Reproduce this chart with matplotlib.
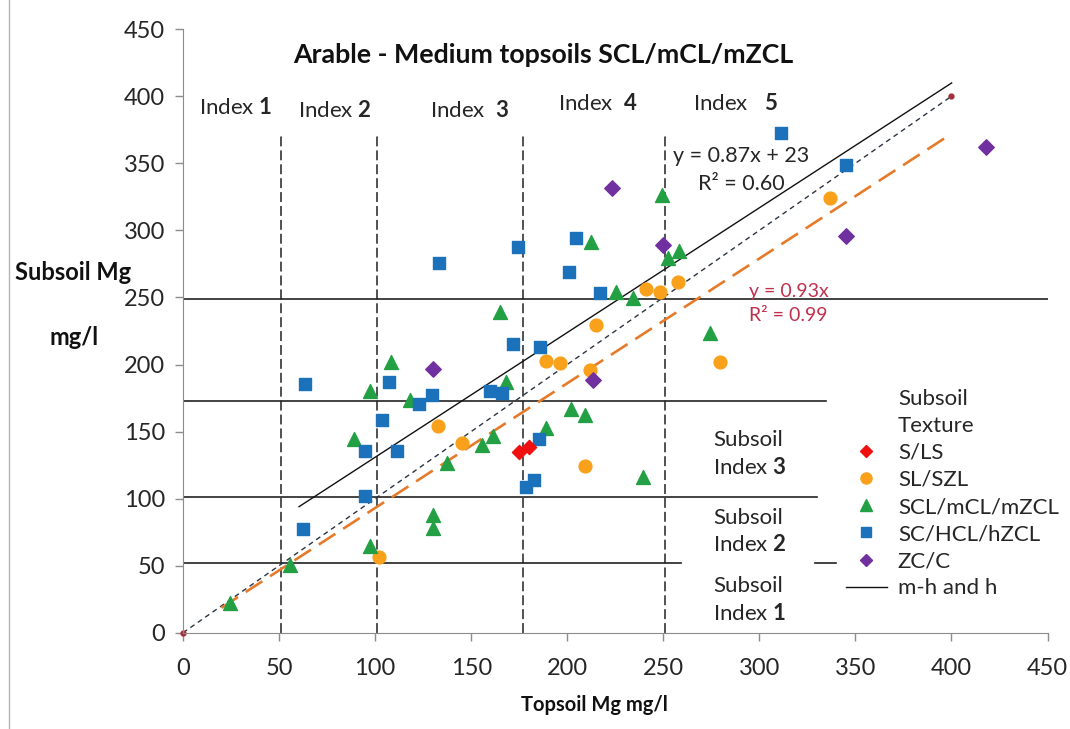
import numpy as np
import matplotlib
matplotlib.use("Agg")
import matplotlib.pyplot as plt
from matplotlib.lines import Line2D

plt.rcParams['font.family'] = ['Lato', 'DejaVu Sans']
plt.rcParams['mathtext.fontset'] = 'custom'
plt.rcParams['mathtext.rm'] = 'Lato'
plt.rcParams['mathtext.bf'] = 'Lato:bold'

# topsoil / subsoil Mg (mg/l) by subsoil texture
sls_x = [174.8, 180.2]
sls_y = [135.0, 138.3]

sl_x = [102.1, 132.8, 145.0, 188.7, 196.5, 211.8, 279.4, 209.2, 257.7, 240.9, 248.5, 215.2, 336.6]
sl_y = [56.7, 154.4, 141.7, 202.6, 200.9, 195.9, 201.6, 124.5, 261.7, 256.3, 253.8, 229.5, 323.9]

scl_x = [24.5, 55.7, 97.3, 89.0, 97.3, 108.1, 118.1, 137.2, 130.2, 130.2, 168.1, 161.4, 155.4,
         189.2, 202.2, 209.2, 239.2, 249.1, 212.3, 258.1, 252.5, 225.3, 234.0, 164.9, 274.2]
scl_y = [22.1, 50.5, 64.4, 144.2, 180.5, 202.1, 173.5, 126.3, 87.8, 78.3, 187.2, 146.7, 140.0,
         152.9, 166.6, 162.3, 116.3, 326.4, 291.1, 284.6, 279.6, 254.3, 249.4, 239.4, 223.3]

sc_x = [62.6, 94.7, 94.7, 103.4, 111.2, 63.5, 107.3, 122.8, 129.7, 171.9, 185.7, 159.7, 166.3,
        185.4, 178.3, 182.6, 174.5, 204.8, 201.0, 217.3, 133.2, 311.5, 345.3]
sc_y = [77.1, 102.2, 135.5, 158.6, 135.5, 185.5, 186.7, 170.5, 177.3, 215.3, 213.3, 180.5, 178.5,
        144.2, 108.4, 113.9, 287.8, 294.1, 268.8, 253.1, 275.9, 372.4, 348.8]

zc_x = [130.2, 213.5, 223.4, 249.9, 417.8, 345.3]
zc_y = [196.6, 188.4, 331.4, 289.1, 362.4, 295.8]

# reference lines
one_x = [0, 400]
one_y = [0, 400]
fit_x = [20, 400]
fit_y = [18.6, 372.0]      # y = 0.93x
mh_x = [60.4, 400.1]
mh_y = [94.0, 409.9]

# index boundaries
top_bounds = [51, 101, 177, 251]
top_bound_max = 371
sub_bounds = [249, 173, 101, 52, 52]
sub_bound_from = [0, 0, 0, 0, 329]
sub_bound_to = [450, 334.5, 330, 259, 340]

txt = '#262626'

fig = plt.figure(figsize=(10.7, 7.29), dpi=100)
ax = fig.add_axes([0.171, 0.132, 0.808, 0.828])

for xb in top_bounds:
    ax.plot([xb, xb], [0, top_bound_max], color='#222222', lw=1.1, dashes=(6.5, 2.6))
for yb, x0, x1 in zip(sub_bounds, sub_bound_from, sub_bound_to):
    ax.plot([x0, x1], [yb, yb], color='#222222', lw=1.2)

ax.plot(one_x, one_y, color='#2b3441', lw=1.0, dashes=(3.6, 2.9))
ax.plot(one_x, one_y, ls='none', marker='o', ms=3.5, color='#a0303c', clip_on=False)
ax.plot(fit_x, fit_y, color='#e57b2a', lw=1.9, dashes=(7.5, 3.5))
ax.plot(mh_x, mh_y, color='#111111', lw=1.0)

ax.scatter(sl_x, sl_y, marker='o', s=85, color='#f9a11b', zorder=3)
ax.scatter(scl_x, scl_y, marker='^', s=100, color='#23a044', zorder=3)
ax.scatter(sc_x, sc_y, marker='s', s=72, color='#1b72bb', zorder=3)
ax.scatter(zc_x, zc_y, marker='D', s=62, color='#7030a0', zorder=3)
ax.scatter(sls_x, sls_y, marker='D', s=52, color='#f01010', zorder=3)

ax.set_xlim(0, 450)
ax.set_ylim(0, 450)
ax.set_xticks(np.arange(0, 451, 50))
ax.set_yticks(np.arange(0, 451, 50))
for side in ['top', 'right']:
    ax.spines[side].set_visible(False)
for side in ['left', 'bottom']:
    ax.spines[side].set_color('#8c8c8c')
ax.tick_params(direction='out', length=6, width=1, color='#8c8c8c',
               labelsize=17, labelcolor=txt)
ax.tick_params(axis='x', pad=12)
ax.tick_params(axis='y', pad=7)

# index labels
idx_x = [27.3, 78.8, 149.3, 215.9, 287.7]
idx_y = [391.3, 389.0, 389.6, 394.3, 394.3]
idx_lbl = ['Index $\\mathbf{1}$', 'Index $\\mathbf{2}$', 'Index  $\\mathbf{3}$',
           'Index  $\\mathbf{4}$', 'Index   $\\mathbf{5}$']
for x, y, s in zip(idx_x, idx_y, idx_lbl):
    ax.text(x, y, s, ha='center', va='center', fontsize=16, color=txt)

sub_y = [133.3, 75.5, 24.4]
sub_lbl = ['3', '2', '1']
for y, s in zip(sub_y, sub_lbl):
    ax.text(275.8, y, 'Subsoil\nIndex $\\mathbf{' + s + '}$', ha='left', va='center',
            fontsize=16, color=txt, linespacing=1.4)

ax.text(290.6, 344.7, 'y = 0.87x + 23\nR² = 0.60', ha='center', va='center',
        fontsize=15.5, color=txt, linespacing=1.5)
ax.text(294.5, 245.5, 'y = 0.93x\nR² = 0.99', ha='left', va='center',
        fontsize=14, color='#c0304d', linespacing=1.55)

fig.text(0.508, 0.9246, 'Arable - Medium topsoils SCL/mCL/mZCL', ha='center', va='center',
         fontsize=19.3, fontweight='bold', color='#111111')
fig.text(594 / 1070, 1 - 705 / 729, 'Topsoil Mg mg/l', ha='center', va='center',
         fontsize=14.5, fontweight='bold', color='#111111')
fig.text(73 / 1070, 1 - 272 / 729, 'Subsoil Mg', ha='center', va='center',
         fontsize=17, fontweight='bold', color='#111111')
fig.text(74 / 1070, 1 - 337 / 729, 'mg/l', ha='center', va='center',
         fontsize=17, fontweight='bold', color='#111111')

# legend
blank = Line2D([], [], ls='none')
handles = [
    blank, blank,
    Line2D([], [], ls='none', marker='D', ms=6, color='#f01010'),
    Line2D([], [], ls='none', marker='o', ms=8, color='#f9a11b'),
    Line2D([], [], ls='none', marker='^', ms=8, color='#23a044'),
    Line2D([], [], ls='none', marker='s', ms=7, color='#1b72bb'),
    Line2D([], [], ls='none', marker='D', ms=6, color='#7030a0'),
    Line2D([], [], color='#111111', lw=1.0),
]
labels = ['Subsoil', 'Texture', 'S/LS', 'SL/SZL', 'SCL/mCL/mZCL', 'SC/HCL/hZCL', 'ZC/C', 'm-h and h']
leg = fig.legend(handles, labels, loc='upper left', bbox_to_anchor=(839 / 1070, 1 - 382 / 729),
                 frameon=True, framealpha=1, edgecolor='none', facecolor='white',
                 fontsize=16, labelspacing=0.32, handlelength=1.85, handletextpad=0.5,
                 borderpad=0.3, borderaxespad=0)
for t in leg.get_texts():
    t.set_color(txt)

fig.add_artist(Line2D([8.5 / 1070, 8.5 / 1070], [0, 1], transform=fig.transFigure,
                      color='#b4b4b4', lw=1))

fig.savefig('out.png', dpi=100)
